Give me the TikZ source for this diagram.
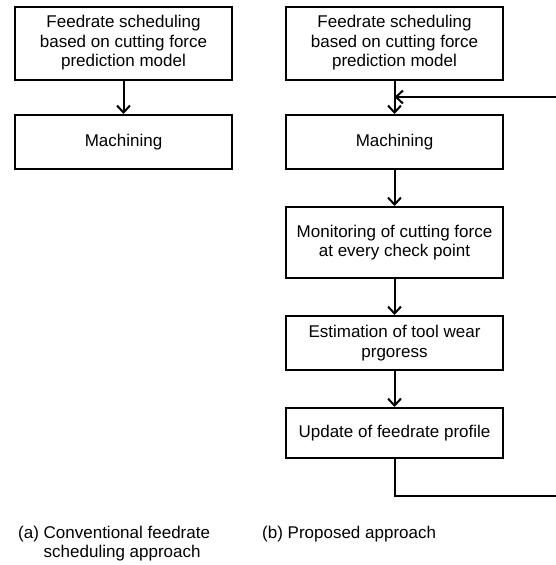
\documentclass[tikz,border=0pt]{standalone}
\usepackage{fontspec}
\setmainfont{Liberation Sans}
\usetikzlibrary{arrows.meta}
\begin{document}
\begin{tikzpicture}[x=1pt,y=1pt,
  box/.style={draw, line width=2pt, fill=white, minimum width=217pt, inner sep=0pt, align=center,
    font=\fontsize{17}{19.5}\selectfont},
  arr/.style={draw, line width=2pt, -{Straight Barb[length=7pt,width=13pt]}},
  captxt/.style={inner sep=0pt, align=left, anchor=base west, font=\fontsize{17}{19}\selectfont}]
\useasboundingbox (0,0) rectangle (556,-565);
% (a)
\node[box, minimum height=73pt] (l1) at (123.5,-43) {Feedrate scheduling\\based on cutting force\\prediction model};
\node[box, minimum height=54pt] (l2) at (123.5,-142) {Machining};
\path[arr] (l1) -- (l2);
% (b)
\node[box, minimum height=73pt] (r1) at (394.5,-43) {Feedrate scheduling\\based on cutting force\\prediction model};
\node[box, minimum height=54pt] (r2) at (394.5,-142) {Machining};
\node[box, minimum height=71pt] (r3) at (394.5,-242.5) {Monitoring of cutting force\\at every check point};
\node[box, minimum height=54pt] (r4) at (394.5,-343) {Estimation of tool wear\\prgoress};
\node[box, minimum height=50pt] (r5) at (394.5,-433) {Update of feedrate profile};
\path[arr] (r1) -- (r2);
\path[arr] (r2) -- (r3);
\path[arr] (r3) -- (r4);
\path[arr] (r4) -- (r5);
\coordinate (fbR) at (565,-496);
\coordinate (fbT) at (565,-97);
\path[arr] (r5.south) |- (fbR) -- (fbT) -- (r1.south |- fbT);
% captions
\node[captxt] (ca) at (18,-557) {(a) Conventional feedrate\\\phantom{(a)\ }scheduling approach};
\node[captxt] (cb) at (262,-538) {(b) Proposed approach};
\end{tikzpicture}
\end{document}
